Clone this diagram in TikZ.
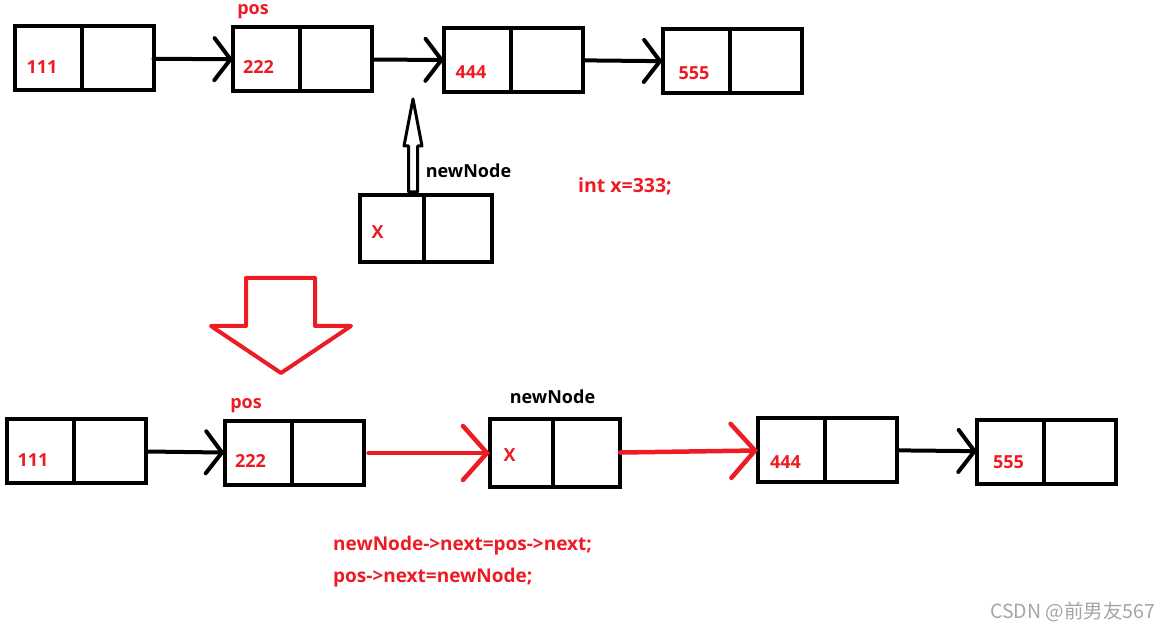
\documentclass[tikz,border=0pt]{standalone}
\usepackage{fontspec}
\setmainfont{Open Sans}
\newfontfamily\cjkfont{Noto Sans CJK SC}
\usetikzlibrary{arrows.meta,positioning,calc}
\definecolor{paintred}{RGB}{237,28,36}
\definecolor{markgray}{RGB}{165,165,165}

\begin{document}
\begin{tikzpicture}[x=1pt, y=-1pt,
  datacell/.style={draw, line width=4pt, minimum width=67pt, minimum height=64pt, inner sep=0pt, outer sep=0pt},
  nextcell/.style={datacell, minimum width=72pt},
  value/.style={font=\fontsize{18}{20}\selectfont\bfseries, text=paintred, inner sep=0pt},
  tag/.style={font=\fontsize{18}{20}\selectfont\bfseries, inner sep=0pt, anchor=base},
  code/.style={font=\fontsize{19}{22}\selectfont\bfseries, text=paintred, inner sep=0pt, anchor=base west},
  link/.style={line width=4pt, line cap=round, -{Straight Barb[length=16pt, width=42pt, line cap=round]}},
  newlink/.style={link, line width=4.5pt, paintred, -{Straight Barb[length=24pt, width=54pt, line cap=round]}}]
  \useasboundingbox (0,0) rectangle (1171,631);

  % list before the insertion
  \node[datacell] (t111) at (48,58.5) {};
  \node[nextcell, right=0pt of t111] (t111n) {};
  \node[value] (t111v) at (42,67) {111};
  \node[datacell] (t222) at (266.5,59.5) {};
  \node[nextcell, right=0pt of t222] (t222n) {};
  \node[value] (t222v) at (258.5,67) {222};
  \node[datacell] (t444) at (477.5,60) {};
  \node[nextcell, right=0pt of t444] (t444n) {};
  \node[value] (t444v) at (471,72) {444};
  \node[datacell] (t555) at (696,61.5) {};
  \node[nextcell, right=0pt of t555] (t555n) {};
  \node[value] (t555v) at (694,73) {555};
  \draw[link] (t111n) -- (t222);
  \draw[link] (t222n) -- (t444);
  \draw[link] (t444n) -- (t555);
  \node[tag, text=paintred] (tpos) at (253,15) {pos};

  % the new node
  \node[datacell, minimum width=64pt, minimum height=67pt] (tx) at (392,228.5) {};
  \node[nextcell, minimum width=68pt, minimum height=67pt, right=0pt of tx] (txn) {};
  \node[value] (txv) at (377.5,232) {X};
  \draw[line width=3pt, line join=round] (408.5,192) -- (408.5,146) -- (404,146) -- (413,99)
    -- (422,146) -- (417.5,146) -- (417.5,192) -- cycle;
  \node[tag] (tnew) at (468.5,178) {newNode};
  \node[tag, text=paintred, font=\fontsize{19.5}{22}\selectfont\bfseries] (intx) at (625,193) {int x=333;};

  % big arrow
  \draw[paintred, line width=4pt, line join=round] (246,278) -- (315,278) -- (315,326) -- (351,326)
    -- (281,373) -- (211,326) -- (246,326) -- cycle;

  % list after the insertion
  \node[datacell] (b111) at (40.5,451) {};
  \node[nextcell, right=0pt of b111] (b111n) {};
  \node[value] (b111v) at (33,460) {111};
  \node[datacell] (b222) at (258,453) {};
  \node[nextcell, right=0pt of b222] (b222n) {};
  \node[value] (b222v) at (250.5,461) {222};
  \node[datacell, minimum width=63pt, minimum height=68pt] (bx) at (521.5,453) {};
  \node[nextcell, minimum width=67pt, minimum height=68pt, right=0pt of bx] (bxn) {};
  \node[value] (bxv) at (509.5,455) {X};
  \node[datacell] (b444) at (791.5,450) {};
  \node[nextcell, right=0pt of b444] (b444n) {};
  \node[value] (b444v) at (785.5,462) {444};
  \node[datacell] (b555) at (1010.5,451.5) {};
  \node[nextcell, right=0pt of b555] (b555n) {};
  \node[value] (b555v) at (1008.5,462) {555};
  \draw[link] (b111n) -- (b222);
  \draw[newlink, shorten <=5pt] (b222n) -- (bx);
  \draw[newlink] (bxn) -- (b444);
  \draw[link] (b444n) -- (b555);
  \node[tag, text=paintred] (bpos) at (246,408) {pos};
  \node[tag] (bnew) at (552.5,403) {newNode};

  \node[code] (line1) at (333,550) {newNode->next=pos->next;};
  \node[code] (line2) at (333,582) {pos->next=newNode;};
  \node[anchor=base west, inner sep=0pt, text=markgray, font=\cjkfont\fontsize{19.5}{22}\selectfont] (csdn) at (990,618) {CSDN @前男友567};
\end{tikzpicture}
\end{document}
